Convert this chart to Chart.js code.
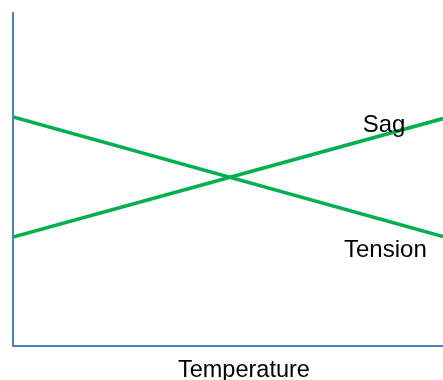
<!DOCTYPE html>
<html>
<head>
<meta charset="utf-8">
<script src="https://cdn.jsdelivr.net/npm/chart.js@4"></script>
<style>
  body { margin: 0; background: #fff; }
  #wrap { width: 443px; height: 380px; }
</style>
</head>
<body>
<div id="wrap"><canvas id="chart"></canvas></div>
<script>
// --- data (y as fraction of axis height) ---
const temps = [0, 1];
const sag = [0.327, 0.683];
const tension = [0.688, 0.329];
const seriesNames = ["Sag", "Tension"];
const xTitle = "Temperature";

const green = '#00b050';
const axisBlue = '#4f81bd';
const font = '"Liberation Sans", Arial, sans-serif';

// series labels and the x title, drawn as text on the canvas
const chartText = {
  id: 'chartText',
  afterDatasetsDraw(chart) {
    const { ctx, scales: { x, y } } = chart;
    ctx.save();
    ctx.fillStyle = '#000';
    ctx.textAlign = 'center';
    ctx.textBaseline = 'alphabetic';
    ctx.font = '24px ' + font;
    ctx.fillText(seriesNames[0], x.getPixelForValue(0.863), y.getPixelForValue(0.643));
    ctx.fillText(seriesNames[1], x.getPixelForValue(0.866), y.getPixelForValue(0.267));
    ctx.font = '23.5px ' + font;
    ctx.fillText(xTitle, x.getPixelForValue(0.537), x.bottom + 31);
    ctx.restore();
  }
};

new Chart(document.getElementById('chart'), {
  type: 'line',
  data: {
    datasets: [
      { label: seriesNames[0], data: temps.map((t, i) => ({ x: t, y: sag[i] })) },
      { label: seriesNames[1], data: temps.map((t, i) => ({ x: t, y: tension[i] })) }
    ]
  },
  options: {
    responsive: true,
    maintainAspectRatio: false,
    animation: false,
    layout: { padding: { left: 13, top: 13, right: 0, bottom: 34 } },
    elements: {
      line: { borderColor: green, borderWidth: 3.5, tension: 0 },
      point: { radius: 0 }
    },
    plugins: { legend: { display: false }, tooltip: { enabled: false } },
    scales: {
      x: {
        type: 'linear', min: 0, max: 1,
        grid: { display: false, drawTicks: false },
        ticks: { display: false },
        border: { display: true, color: axisBlue, width: 2 }
      },
      y: {
        min: 0, max: 1,
        grid: { display: false, drawTicks: false },
        ticks: { display: false },
        border: { display: true, color: axisBlue, width: 2 }
      }
    }
  },
  plugins: [chartText]
});
</script>
</body>
</html>
